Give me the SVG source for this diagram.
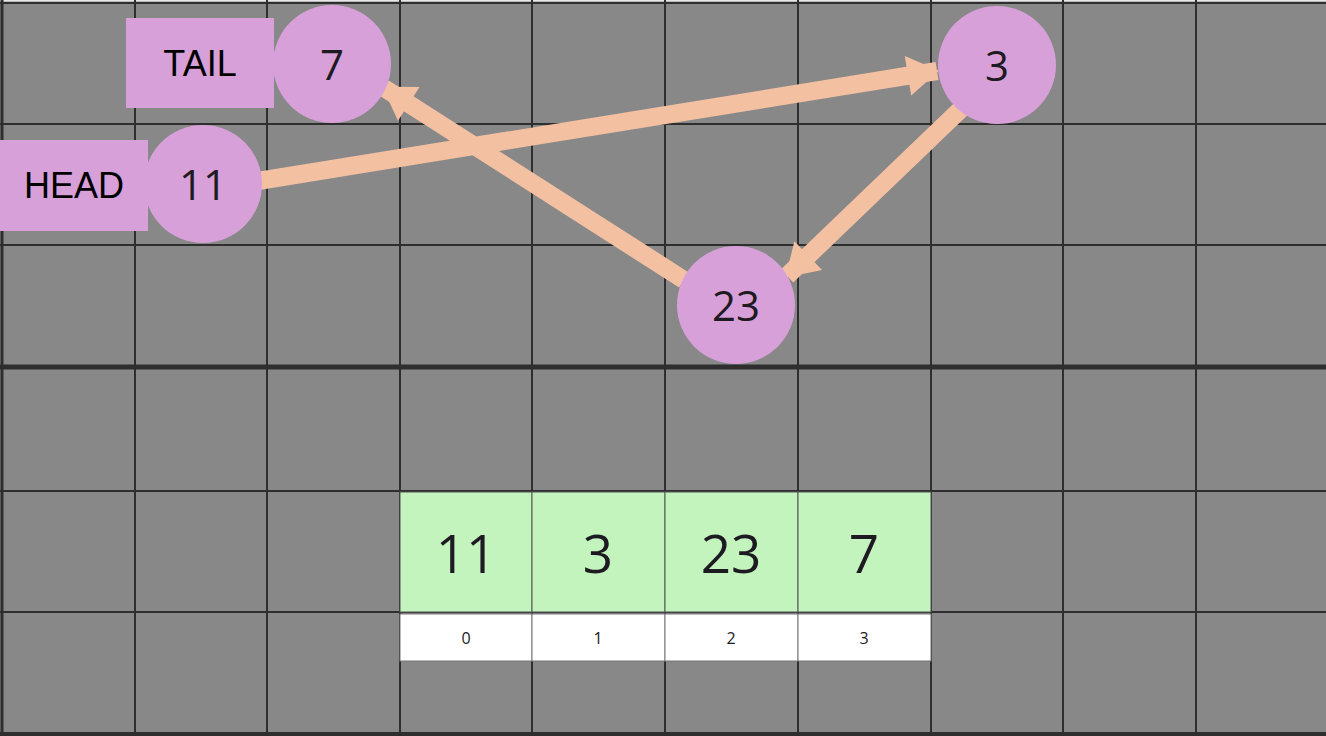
<svg xmlns="http://www.w3.org/2000/svg" width="1326" height="736" viewBox="0 0 1326 736">
<style>
.grid line{stroke:#2e2e2e;stroke-width:2}
.node circle{fill:#d8a0d8}
.lbl rect{fill:#d8a0d8}
.num{font-family:"Open Sans",sans-serif;fill:#1e1a22;text-anchor:middle}
.lt{font-family:"Liberation Sans",Arial,sans-serif;fill:#000;font-size:36px;text-anchor:middle}
.cell{fill:#c3f4be;stroke:#555;stroke-width:1}
.idx{fill:#fff;stroke:#777;stroke-width:1}
.conn line{stroke:#f4c0a2;stroke-width:18}
</style>
<defs>
<marker id="ah" markerUnits="userSpaceOnUse" markerWidth="42" markerHeight="42" viewBox="0 0 30 40" refX="28" refY="20" orient="auto">
<polygon points="0,1 30,20 0,39" fill="#f4c0a2"/>
</marker>
</defs>
<rect width="1326" height="736" fill="#888888"/>
<rect width="1326" height="1.5" fill="#e8e8e8"/>
<g class="grid">
<line x1="0" y1="3" x2="1326" y2="3"/>
<line x1="0" y1="124" x2="1326" y2="124"/>
<line x1="0" y1="245" x2="1326" y2="245"/>
<line x1="0" y1="491" x2="1326" y2="491"/>
<line x1="0" y1="612" x2="1326" y2="612"/>
<line x1="0" y1="367" x2="1326" y2="367" style="stroke-width:5"/>
<line x1="0" y1="734" x2="1326" y2="734" style="stroke-width:4"/>
<line x1="2" y1="0" x2="2" y2="736" style="stroke-width:3"/>
<line x1="135" y1="0" x2="135" y2="736"/>
<line x1="267" y1="0" x2="267" y2="736"/>
<line x1="400" y1="0" x2="400" y2="736"/>
<line x1="532" y1="0" x2="532" y2="736"/>
<line x1="665" y1="0" x2="665" y2="736"/>
<line x1="798" y1="0" x2="798" y2="736"/>
<line x1="931" y1="0" x2="931" y2="736"/>
<line x1="1063" y1="0" x2="1063" y2="736"/>
<line x1="1196" y1="0" x2="1196" y2="736"/>
</g>
<g class="conn">
<line x1="258" y1="181" x2="937" y2="71" marker-end="url(#ah)"/>
<line x1="962" y1="108" x2="787" y2="276" marker-end="url(#ah)"/>
<line x1="684" y1="280" x2="384" y2="88" marker-end="url(#ah)"/>
</g>
<g id="tail-label" class="lbl"><rect x="126" y="18" width="148" height="90"/><text class="lt" x="200" y="76">TAIL</text></g>
<g id="head-label" class="lbl"><rect x="0" y="140" width="148" height="91"/><text class="lt" x="74" y="198">HEAD</text></g>
<g id="node-7" class="node"><circle cx="332" cy="64" r="59"/><text class="num" x="332" y="80" font-size="42">7</text></g>
<g id="node-11" class="node"><circle cx="203" cy="184" r="59"/><text class="num" x="203" y="200" font-size="42">11</text></g>
<g id="node-3" class="node"><circle cx="997" cy="65" r="59"/><text class="num" x="997" y="81" font-size="42">3</text></g>
<g id="node-23" class="node"><circle cx="736" cy="305" r="59"/><text class="num" x="736" y="321" font-size="42">23</text></g>
<g id="array">
<rect class="cell" x="400" y="492" width="132" height="120"/>
<rect class="cell" x="532" y="492" width="133" height="120"/>
<rect class="cell" x="665" y="492" width="133" height="120"/>
<rect class="cell" x="798" y="492" width="133" height="120"/>
<text class="num" x="466" y="573" font-size="53">11</text>
<text class="num" x="598" y="573" font-size="53">3</text>
<text class="num" x="731" y="573" font-size="53">23</text>
<text class="num" x="864" y="573" font-size="53">7</text>
<rect class="idx" x="400" y="614" width="132" height="47"/>
<rect class="idx" x="532" y="614" width="133" height="47"/>
<rect class="idx" x="665" y="614" width="133" height="47"/>
<rect class="idx" x="798" y="614" width="133" height="47"/>
<text class="num" x="466" y="644" font-size="16">0</text>
<text class="num" x="598" y="644" font-size="16">1</text>
<text class="num" x="731" y="644" font-size="16">2</text>
<text class="num" x="864" y="644" font-size="16">3</text>
</g>
</svg>
